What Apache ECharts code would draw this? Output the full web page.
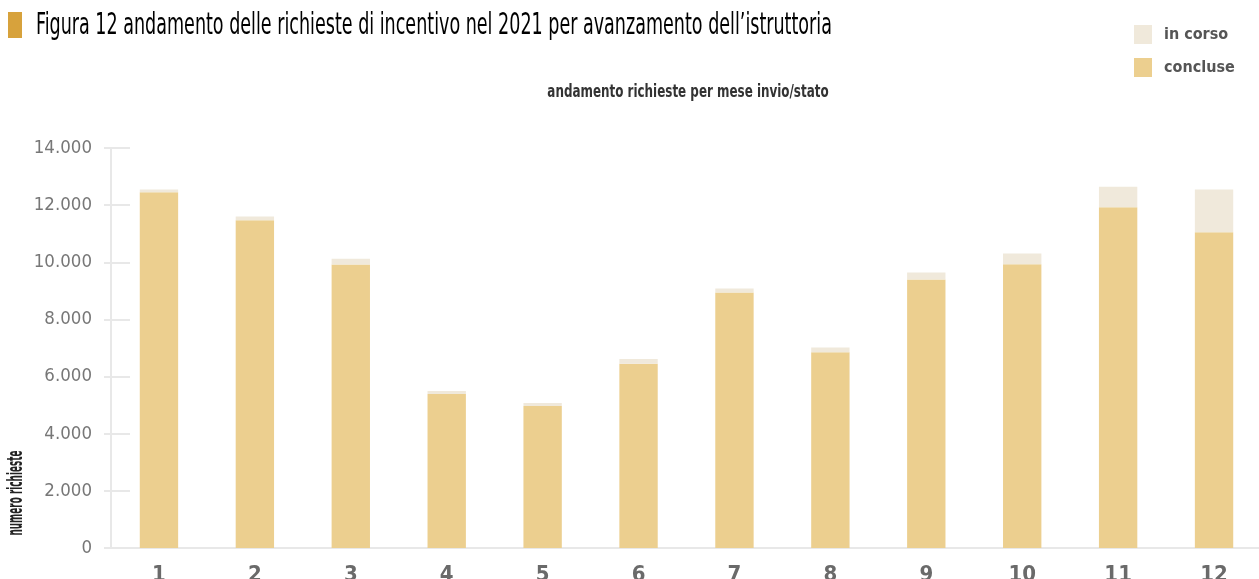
<!DOCTYPE html>
<html>
<head>
<meta charset="utf-8">
<script src="https://cdn.jsdelivr.net/npm/echarts@6/dist/echarts.min.js"></script>
<style>
  html, body { margin: 0; padding: 0; background: #fff; }
  #chart { width: 1259px; height: 579px; }
</style>
</head>
<body>
<div id="chart"></div>
<script>
// Monthly incentive requests in 2021, split by processing status
const months = ['1', '2', '3', '4', '5', '6', '7', '8', '9', '10', '11', '12'];
const concluse = [12450, 11470, 9920, 5390, 4970, 6450, 8945, 6850, 9395, 9930, 11930, 11050];
const inCorso = [100, 130, 200, 105, 105, 165, 135, 170, 245, 375, 715, 1500];
const yTicks = [0, 2000, 4000, 6000, 8000, 10000, 12000, 14000];

const FONT = '"Liberation Sans Narrow", "DejaVu Sans Condensed", "Liberation Sans", sans-serif';
const GOLD = '#D7A23C';
const C_DONE = '#ECCF8F';
const C_OPEN = '#F0E9DB';
const AXIS_GREY = '#E8E8E8';

function thousands(v) {
  return String(v).replace(/\B(?=(\d{3})+(?!\d))/g, '.');
}

const chart = echarts.init(document.getElementById('chart'));
chart.setOption({
  animation: false,
  backgroundColor: '#fff',
  textStyle: { fontFamily: FONT },
  grid: { left: 111, top: 148, bottom: 31, right: -3, containLabel: false, outerBoundsMode: 'none' },
  legend: {
    orient: 'vertical',
    left: 1129,
    top: 20,
    itemWidth: 18,
    itemHeight: 19,
    itemGap: 14,
    icon: 'rect',
    data: ['in corso', 'concluse'],
    textStyle: { fontFamily: FONT, fontSize: 16, fontWeight: 'bold', color: '#555', padding: [0, 0, 0, 7] }
  },
  xAxis: {
    type: 'category',
    data: months,
    axisLine: { lineStyle: { color: AXIS_GREY, width: 2 } },
    axisTick: { alignWithLabel: false, length: 8, lineStyle: { color: AXIS_GREY, width: 1 } },
    axisLabel: { margin: 16, fontFamily: FONT, fontSize: 22, fontWeight: 'bold', color: '#6a6a6a' }
  },
  yAxis: [{
    type: 'value',
    min: 0,
    max: 14000,
    interval: 2000,
    axisLine: { show: true, lineStyle: { color: AXIS_GREY, width: 2 } },
    axisTick: { show: true, length: 7, lineStyle: { color: AXIS_GREY, width: 2 } },
    splitLine: { show: false },
    axisLabel: {
      margin: 19,
      fontFamily: FONT,
      fontSize: 18.5,
      color: '#777',
      formatter: v => yTicks.includes(v) ? thousands(v) : ''
    }
  }, {
    type: 'value',
    min: 0,
    max: 14000,
    interval: 2000,
    position: 'left',
    axisLine: { show: false },
    axisTick: { show: true, inside: true, length: 19, lineStyle: { color: AXIS_GREY, width: 2 } },
    axisLabel: { show: false },
    splitLine: { show: false }
  }],
  series: [{
    name: 'concluse',
    type: 'bar',
    stack: 'stato',
    barWidth: '40%',
    data: concluse,
    itemStyle: { color: C_DONE }
  }, {
    name: 'in corso',
    type: 'bar',
    stack: 'stato',
    barWidth: '40%',
    data: inCorso,
    itemStyle: { color: C_OPEN }
  }],
  graphic: [
    { type: 'rect', left: 8, top: 12, shape: { width: 14, height: 26 }, style: { fill: GOLD } },
    {
      type: 'text',
      x: 36, y: 11,
      scaleX: 0.65,
      style: {
        text: '{a|Figura 12 }{b|andamento delle richieste di incentivo nel 2021 per avanzamento dell’istruttoria}',
        rich: {
          a: { fontFamily: FONT, fontSize: 30, color: GOLD },
          b: { fontFamily: FONT, fontSize: 30, color: '#6b6b6b' }
        }
      }
    },
    {
      type: 'text',
      x: 688, y: 84,
      scaleX: 0.78,
      style: {
        text: 'andamento richieste per mese invio/stato',
        align: 'center',
        fontFamily: FONT,
        fontSize: 17,
        fontWeight: 'bold',
        fill: '#333'
      }
    },
    {
      type: 'text',
      x: 17, y: 493,
      rotation: Math.PI / 2,
      scaleX: 0.47,
      style: {
        text: 'numero richieste',
        align: 'center',
        verticalAlign: 'middle',
        fontFamily: FONT,
        fontSize: 21,
        fontWeight: 'bold',
        fill: '#222'
      }
    }
  ]
});
</script>
</body>
</html>
